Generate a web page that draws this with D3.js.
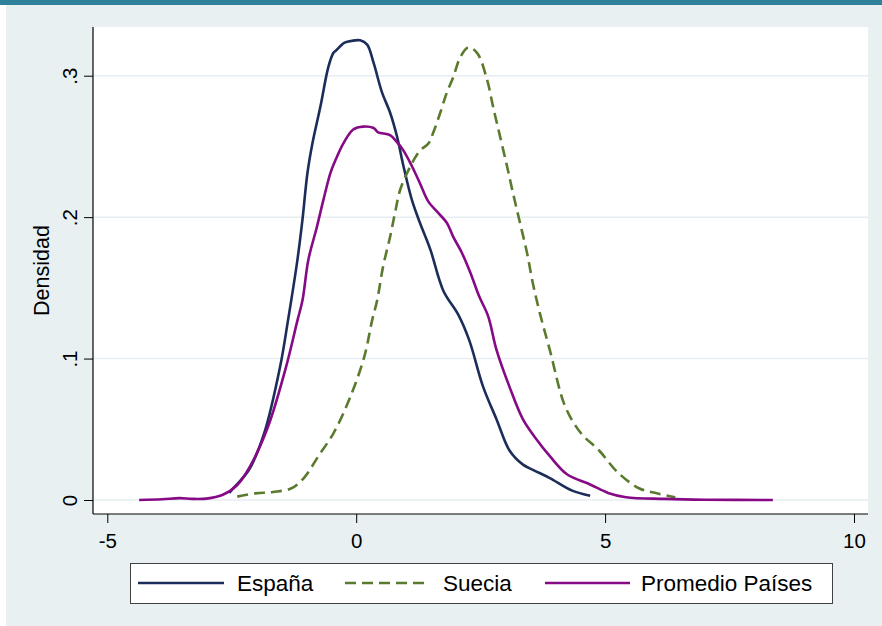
<!DOCTYPE html>
<html>
<head>
<meta charset="utf-8">
<script src="https://cdn.jsdelivr.net/npm/d3@7"></script>
<style>
  html, body { margin: 0; padding: 0; background: #ffffff; }
  svg { display: block; }
  text { font-family: "Liberation Sans", Arial, Helvetica, sans-serif; fill: #000; }
</style>
</head>
<body>
<svg id="chart" width="882" height="626"></svg>
<script>
// ---- Data ----
const espanaX = [-2.55,-2.47,-2.16,-1.85,-1.53,-1.37,-1.18,-1.08,-0.98,-0.88,-0.72,-0.56,-0.46,-0.40,-0.25,-0.18,0.08,0.22,0.35,0.52,0.68,0.82,0.95,1.12,1.28,1.49,1.75,2.05,2.27,2.55,2.82,3.08,3.35,3.57,3.89,4.34,4.70];
const espanaY = [0.005,0.0083,0.021,0.047,0.094,0.127,0.170,0.198,0.231,0.252,0.278,0.306,0.316,0.318,0.323,0.324,0.325,0.322,0.309,0.288,0.274,0.257,0.236,0.212,0.196,0.177,0.148,0.131,0.113,0.080,0.057,0.035,0.025,0.021,0.0155,0.0066,0.003];

const sueciaX = [-2.39,-2.02,-1.67,-1.30,-1.04,-0.76,-0.46,-0.14,0.16,0.32,0.42,0.54,0.68,0.78,0.88,1.02,1.15,1.28,1.45,1.55,1.69,1.82,1.95,2.09,2.25,2.43,2.63,2.75,2.89,3.03,3.15,3.29,3.43,3.55,3.69,3.89,4.20,4.52,4.88,5.24,5.68,6.04,6.41];
const sueciaY = [0.0024,0.0047,0.0057,0.0083,0.016,0.031,0.047,0.071,0.101,0.127,0.141,0.165,0.186,0.203,0.219,0.231,0.240,0.247,0.252,0.260,0.274,0.288,0.299,0.313,0.320,0.316,0.297,0.278,0.257,0.236,0.217,0.196,0.175,0.153,0.132,0.106,0.066,0.047,0.035,0.020,0.0083,0.0047,0.002];

const promedioX = [-4.36,-3.9,-3.55,-3.3,-3.01,-2.69,-2.39,-2.13,-1.77,-1.41,-1.18,-1.08,-0.96,-0.79,-0.66,-0.52,-0.42,-0.26,-0.06,0.14,0.35,0.44,0.68,0.82,0.95,1.12,1.28,1.45,1.62,1.82,1.95,2.12,2.29,2.47,2.65,2.82,3.08,3.35,3.62,3.89,4.24,4.70,5.06,5.42,6.2,7.0,8.37];
const promedioY = [0,0.0005,0.0013,0.0008,0.001,0.0035,0.0106,0.024,0.052,0.094,0.127,0.141,0.170,0.193,0.212,0.231,0.240,0.252,0.262,0.264,0.263,0.260,0.258,0.253,0.247,0.236,0.224,0.211,0.204,0.196,0.186,0.175,0.161,0.144,0.130,0.106,0.080,0.057,0.043,0.031,0.018,0.011,0.005,0.002,0.0008,0.0002,0];

const seriesNames = ["España", "Suecia", "Promedio Países"];
const xTicks = [-5, 0, 5, 10];
const xTickLabels = ["-5", "0", "5", "10"];
const yTicks = [0, 0.1, 0.2, 0.3];
const yTickLabels = ["0", ".1", ".2", ".3"];
const yTitle = "Densidad";

// ---- Drawing ----
const svg = d3.select("#chart");
const W = 882, H = 626;
const plot = { left: 93, right: 868, top: 27, bottom: 514 };

svg.append("rect").attr("x", 0).attr("y", 0).attr("width", W).attr("height", H).attr("fill", "#ffffff");
svg.append("rect").attr("x", 6).attr("y", 5).attr("width", W - 6).attr("height", H - 5).attr("fill", "#e8f0f2");
svg.append("rect").attr("x", 0).attr("y", 0).attr("width", W).attr("height", 5).attr("fill", "#2e809b");

svg.append("rect")
  .attr("x", plot.left).attr("y", plot.top)
  .attr("width", plot.right - plot.left).attr("height", plot.bottom - plot.top)
  .attr("fill", "#ffffff");

const x = d3.scaleLinear().domain([-5, 10]).range([107.3, 854]);
const y = d3.scaleLinear().domain([0, 0.3]).range([500, 75.7]);

// gridlines
svg.append("g").selectAll("line").data(yTicks).join("line")
  .attr("x1", plot.left + 1).attr("x2", plot.right)
  .attr("y1", d => y(d)).attr("y2", d => y(d))
  .attr("stroke", "#e6eef1").attr("stroke-width", 1.5);

// x axis
const xAxis = d3.axisBottom(x).tickValues(xTicks)
  .tickFormat((d, i) => xTickLabels[i]).tickSize(9).tickPadding(10);
const gx = svg.append("g").attr("transform", `translate(0,${plot.bottom})`).call(xAxis);
gx.select(".domain").remove();
gx.selectAll(".tick line").attr("stroke", "#000").attr("stroke-width", 1);
gx.selectAll(".tick text").attr("font-size", 20.5).attr("font-family", "Liberation Sans, Arial, sans-serif").attr("fill", "#000");
svg.append("line").attr("x1", plot.left).attr("x2", plot.right)
  .attr("y1", plot.bottom).attr("y2", plot.bottom).attr("stroke", "#000").attr("stroke-width", 1.2);

// y axis
const yAxis = d3.axisLeft(y).tickValues(yTicks).tickFormat((d, i) => yTickLabels[i]).tickSize(9);
const gy = svg.append("g").attr("transform", `translate(${plot.left},0)`).call(yAxis);
gy.select(".domain").remove();
gy.selectAll(".tick line").attr("stroke", "#000").attr("stroke-width", 1);
gy.selectAll(".tick text")
  .attr("x", null).attr("dy", null)
  .attr("text-anchor", "middle")
  .attr("transform", "translate(-16,0) rotate(-90)")
  .attr("font-size", 20.5).attr("font-family", "Liberation Sans, Arial, sans-serif").attr("fill", "#000");
svg.append("line").attr("x1", plot.left).attr("x2", plot.left)
  .attr("y1", plot.top).attr("y2", plot.bottom).attr("stroke", "#000").attr("stroke-width", 1.2);

// y title
svg.append("text")
  .attr("transform", `translate(49,${(plot.top + plot.bottom) / 2}) rotate(-90)`)
  .attr("text-anchor", "middle").attr("font-size", 21.5)
  .text(yTitle);

// curves
const line = d3.line().x(d => x(d[0])).y(d => y(d[1])).curve(d3.curveCatmullRom.alpha(0.5));
const zip = (xs, ys) => xs.map((v, i) => [v, ys[i]]);
const series = [
  { name: seriesNames[0], pts: zip(espanaX, espanaY), color: "#1c2d5a", dash: null },
  { name: seriesNames[1], pts: zip(sueciaX, sueciaY), color: "#5a7a2e", dash: "11,6" },
  { name: seriesNames[2], pts: zip(promedioX, promedioY), color: "#860a86", dash: null }
];
svg.append("g").selectAll("path").data(series).join("path")
  .attr("d", d => line(d.pts))
  .attr("fill", "none")
  .attr("stroke", d => d.color)
  .attr("stroke-width", 2.6)
  .attr("stroke-linejoin", "round")
  .attr("stroke-dasharray", d => d.dash);

// legend
const lg = svg.append("g");
lg.append("rect").attr("x", 130.5).attr("y", 563.5).attr("width", 702).attr("height", 40)
  .attr("fill", "#ffffff").attr("stroke", "#404040").attr("stroke-width", 1);
const legendPos = [{ x1: 138, x2: 224, tx: 237 }, { x1: 345, x2: 430, tx: 443 }, { x1: 545, x2: 630, tx: 641 }];
series.forEach((s, i) => {
  const p = legendPos[i];
  lg.append("line").attr("x1", p.x1).attr("x2", p.x2).attr("y1", 583).attr("y2", 583)
    .attr("stroke", s.color).attr("stroke-width", 2.6).attr("stroke-dasharray", s.dash);
  lg.append("text").attr("x", p.tx).attr("y", 591).attr("font-size", 22.5).text(s.name);
});
</script>
</body>
</html>
